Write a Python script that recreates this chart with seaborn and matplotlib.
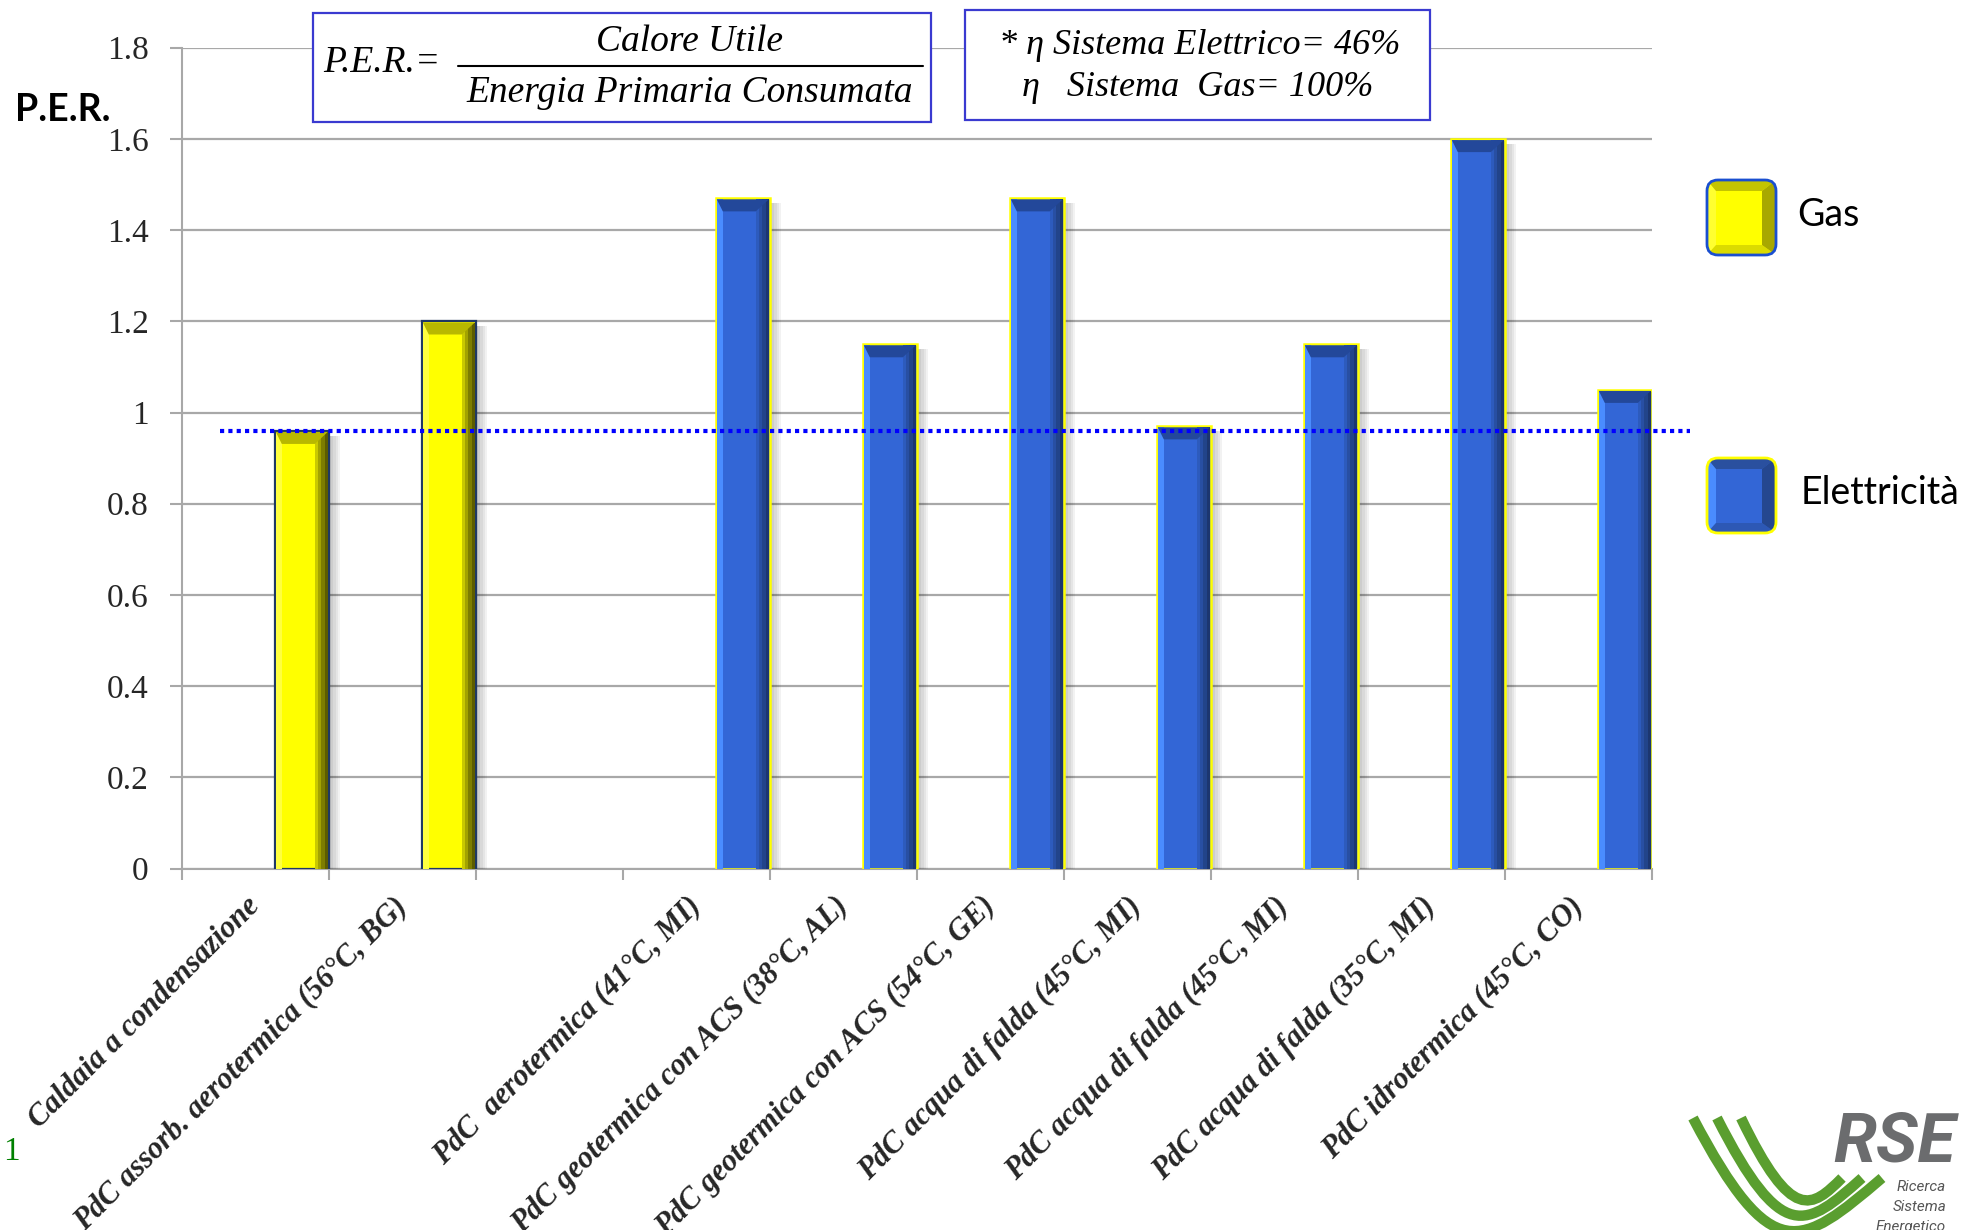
import numpy as np
import pandas as pd
import matplotlib
matplotlib.use("Agg")
import matplotlib.pyplot as plt
import seaborn as sns
from matplotlib.patches import FancyBboxPatch, Polygon, Rectangle, PathPatch
from matplotlib.path import Path
from matplotlib.ticker import FixedLocator

# ---------------- data ----------------
slot_labels = [
    "Caldaia a condensazione",
    "PdC assorb. aerotermica (56°C, BG)",
    "",
    "PdC  aerotermica (41°C, MI)",
    "PdC geotermica con ACS (38°C, AL)",
    "PdC geotermica con ACS (54°C, GE)",
    "PdC acqua di falda (45°C, MI)",
    "PdC acqua di falda (45°C, MI)",
    "PdC acqua di falda (35°C, MI)",
    "PdC idrotermica (45°C, CO)",
]
gas_slots = [0, 1]
gas_per = [0.96, 1.20]
elec_slots = [3, 4, 5, 6, 7, 8, 9]
elec_per = [1.47, 1.15, 1.47, 0.97, 1.15, 1.60, 1.05]
reference_per = 0.96
y_ticks = [0, 0.2, 0.4, 0.6, 0.8, 1.0, 1.2, 1.4, 1.6, 1.8]
legend_names = ["Gas", "Elettricità"]

# ---------------- style ----------------
W, H = 1968, 1230
sns.set_style("white")
plt.rcParams["font.family"] = ["Liberation Serif", "DejaVu Serif"]

GAS_FILL, GAS_EDGE = "#ffff00", "#1f3864"
ELE_FILL, ELE_EDGE = "#3366d6", "#ffff00"
GRID = "#a8a8a8"
BAR_W = 0.37

fig = plt.figure(figsize=(W / 100, H / 100), dpi=100)
fig.patch.set_facecolor("white")
ax_left, ax_bottom, ax_w, ax_h = 182 / W, 1 - 868.5 / H, (1652 - 182) / W, (868.5 - 47.7) / H
ax = fig.add_axes([ax_left, ax_bottom, ax_w, ax_h])
ax.set_facecolor("white")

order = list(range(len(slot_labels)))
df_gas = pd.DataFrame({"slot": gas_slots, "per": gas_per})
df_ele = pd.DataFrame({"slot": elec_slots, "per": elec_per})

n0 = len(ax.patches)
sns.barplot(data=df_gas, x="slot", y="per", order=order, width=BAR_W,
            color=GAS_FILL, saturation=1, edgecolor=GAS_EDGE, linewidth=1.6,
            errorbar=None, ax=ax, zorder=3)
gas_patches = ax.patches[n0:]
n1 = len(ax.patches)
sns.barplot(data=df_ele, x="slot", y="per", order=order, width=BAR_W,
            color=ELE_FILL, saturation=1, edgecolor=ELE_EDGE, linewidth=1.8,
            errorbar=None, ax=ax, zorder=3)
ele_patches = ax.patches[n1:]

# slots: each bar sits at the right end of its slot
x_lo = -1 + BAR_W / 2
x_hi = len(slot_labels) - 1 + BAR_W / 2
ax.set_xlim(x_lo, x_hi)
ax.set_ylim(0, 1.8)

# axes, grid, ticks
for s in ["top", "right"]:
    ax.spines[s].set_visible(False)
for s in ["left", "bottom"]:
    ax.spines[s].set_color(GRID)
    ax.spines[s].set_linewidth(1.5)
ax.set_axisbelow(True)
ax.yaxis.grid(True, color=GRID, linewidth=1.6)
ax.xaxis.grid(False)
ax.set_yticks(y_ticks)
ax.set_yticklabels([f"{v:g}" for v in y_ticks])
ax.tick_params(axis="y", length=9, width=1.5, color=GRID, pad=15,
               labelsize=24, direction="out", left=True)
ax.xaxis.set_minor_locator(FixedLocator([i + BAR_W / 2 for i in range(-1, len(slot_labels))]))
ax.tick_params(axis="x", which="minor", length=8, width=1.5, color=GRID,
               direction="out", bottom=True)
label_pos = [i + BAR_W / 2 - 0.5 for i in range(len(slot_labels))]
ax.set_xticks(label_pos)
ax.set_xticklabels(slot_labels, rotation=45, ha="right", va="center",
                   rotation_mode="anchor", fontsize=22, fontweight="bold",
                   fontstyle="italic")
ax.tick_params(axis="x", which="major", length=0, pad=24)
ax.set_xlabel("")
ax.set_ylabel("")

# pixel size in data units for the bevel effects
px_x = (x_hi - x_lo) / (ax_w * W)
px_y = 1.8 / (ax_h * H)


def bevel_bar(p, light, top, right_cols, shadow=True):
    x, y, w, h = p.get_x(), p.get_y(), p.get_width(), p.get_height()
    t = y + h
    lw_, rw_, th = 6 * px_x, 13 * px_x, 12 * px_y
    inset = 1.2
    xi0, xi1 = x + inset * px_x, x + w - inset * px_x
    ti = t - inset * px_y
    # left highlight
    ax.add_patch(Rectangle((xi0, y), lw_, ti - y, facecolor=light,
                           edgecolor="none", zorder=3.2))
    # right dark ramp
    n = len(right_cols)
    seg = rw_ / n
    for k, c in enumerate(right_cols):
        ax.add_patch(Rectangle((xi1 - rw_ + k * seg, y), seg + 0.2 * px_x, ti - y,
                               facecolor=c, edgecolor="none", zorder=3.2))
    # top bevel
    ax.add_patch(Polygon([(xi0, ti), (xi1, ti), (xi1 - rw_, ti - th), (xi0 + lw_, ti - th)],
                         closed=True, facecolor=top, edgecolor="none", zorder=3.3))
    if shadow:
        for k in range(1, 6):
            ax.add_patch(Rectangle((x + w, y), k * 2.2 * px_x, t - y - 5 * px_y,
                                   facecolor="#000000", alpha=0.05,
                                   edgecolor="none", zorder=2.8))


for p in gas_patches:
    bevel_bar(p, "#ffff40", "#b8b800", ["#c9c900", "#a3a300", "#7d7d00", "#5c5c00"])
for p in ele_patches:
    bevel_bar(p, "#4a8cff", "#23489a", ["#2d5bbd", "#284fa3", "#22448a", "#1c3670"])

# reference line (condensing boiler level)
ax.axhline(reference_per, xmin=0.0256, xmax=1.0256, color="#0000ff", lw=3.0,
           linestyle=(0, (1, 1)), dash_capstyle="butt", clip_on=False, zorder=4)

# ---------------- overlay in pixel coordinates ----------------
ov = fig.add_axes([0, 0, 1, 1])
ov.set_xlim(0, W)
ov.set_ylim(H, 0)
ov.axis("off")
ov.patch.set_alpha(0)
ov.set_zorder(5)

serif_it = dict(family=["Liberation Serif", "DejaVu Serif"], style="italic", color="black")

# formula box
ov.add_patch(Rectangle((313, 13), 618, 109, facecolor="white", edgecolor="#3a3ad0", lw=1.6))
ov.text(323, 63, "P.E.R.=", fontsize=27, ha="left", va="center", **serif_it)
ov.plot([458, 923], [66, 66], color="black", lw=1.5)
ov.text(690, 42, "Calore Utile", fontsize=27, ha="center", va="center", **serif_it)
ov.text(690, 93, "Energia Primaria Consumata", fontsize=27, ha="center", va="center", **serif_it)

# efficiency box
ov.add_patch(Rectangle((965, 10), 465, 110, facecolor="white", edgecolor="#3a3ad0", lw=1.6))
ov.text(1200, 45, "* η Sistema Elettrico= 46%", fontsize=26, ha="center", va="center", **serif_it)
ov.text(1198, 88, "η   Sistema  Gas= 100%", fontsize=26, ha="center", va="center", **serif_it)

# y axis title
ov.text(15, 110, "P.E.R.", fontsize=27, fontweight="bold", family=["Lato", "DejaVu Sans"],
        ha="left", va="center", color="black")


# legend
def legend_box(x0, y0, fill, edge, light, top, right):
    w, h = 69, 75
    box = FancyBboxPatch((x0, y0), w, h, boxstyle="round,pad=0,rounding_size=11",
                         facecolor=fill, edgecolor="none", zorder=1)
    ov.add_patch(box)
    parts = [
        Polygon([(x0, y0), (x0 + 9, y0 + 10), (x0 + 9, y0 + h - 10), (x0, y0 + h)],
                closed=True, facecolor=light, edgecolor="none", zorder=2),
        Polygon([(x0, y0), (x0 + w, y0), (x0 + w - 14, y0 + 11), (x0 + 9, y0 + 11)],
                closed=True, facecolor=top, edgecolor="none", zorder=2),
        Polygon([(x0 + w, y0), (x0 + w, y0 + h), (x0 + w - 14, y0 + h - 10), (x0 + w - 14, y0 + 11)],
                closed=True, facecolor=right, edgecolor="none", zorder=2),
        Polygon([(x0, y0 + h), (x0 + w, y0 + h), (x0 + w - 14, y0 + h - 10), (x0 + 9, y0 + h - 10)],
                closed=True, facecolor=top, edgecolor="none", zorder=2, alpha=0.6),
    ]
    for pp in parts:
        ov.add_patch(pp)
        pp.set_clip_path(box)
    ov.add_patch(FancyBboxPatch((x0, y0), w, h, boxstyle="round,pad=0,rounding_size=11",
                                facecolor="none", edgecolor=edge, lw=2.0, zorder=3))


legend_box(1707, 180, GAS_FILL, "#1a4fd0", "#ffff30", "#c4c400", "#a8a800")
legend_box(1707, 458, ELE_FILL, "#ffff00", "#4a8cff", "#2a509f", "#25478f")
ov.text(1797, 215, legend_names[0], fontsize=27, family=["Lato", "DejaVu Sans"],
        ha="left", va="center", color="black")
ov.text(1801, 493, legend_names[1], fontsize=27, family=["Lato", "DejaVu Sans"],
        ha="left", va="center", color="black")

# page number
ov.text(3, 1152, "1", fontsize=24, color="#008000", ha="left", va="center",
        family=["Liberation Serif", "DejaVu Serif"])

# RSE logo: three green swooshes converging at the bottom
green = "#5a9e2f"
for k in range(3):
    p0 = (1693 + 24 * k, 1118)
    p1 = (1772 + 10 * k, 1268 - 22 * k)
    p2 = (1800 + 6 * k, 1248 - 20 * k)
    p3 = (1882 - 20 * k, 1178)
    path = Path([p0, p1, p2, p3], [Path.MOVETO, Path.CURVE4, Path.CURVE4, Path.CURVE4])
    ov.add_patch(PathPatch(path, facecolor="none", edgecolor=green, lw=7.5,
                           capstyle="butt", zorder=2))
ov.text(1956, 1143, "RSE", fontsize=50, fontweight="bold", style="italic",
        family=["Roboto", "DejaVu Sans"], color="#6b6c6e", ha="right", va="center")
for txt, yy in [("Ricerca", 1187), ("Sistema", 1207), ("Energetico", 1227)]:
    ov.text(1946, yy, txt, fontsize=11, style="italic", family=["Roboto", "DejaVu Sans"],
            color="#555555", ha="right", va="center")

fig.savefig("out.png", dpi=100, facecolor="white")
